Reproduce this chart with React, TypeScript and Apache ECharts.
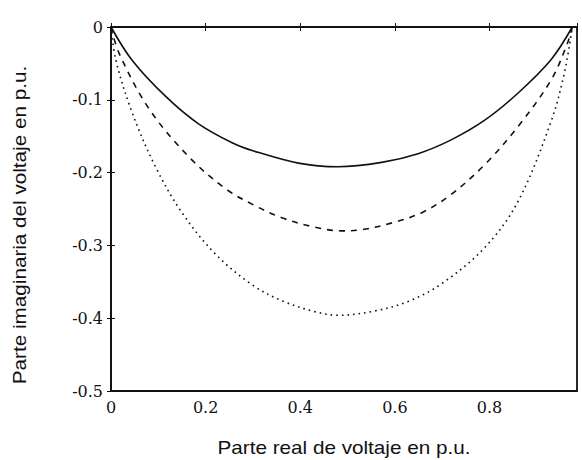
import React, { useEffect, useRef } from "react";
import * as echarts from "echarts";

// (x = real part, y = imaginary part, p.u.)
const solidCurve: number[][] = [
  [0, 0], [0.045, -0.046], [0.115, -0.095], [0.185, -0.133], [0.256, -0.159],
  [0.3, -0.17], [0.396, -0.187], [0.48, -0.192], [0.572, -0.186], [0.649, -0.174],
  [0.719, -0.155], [0.79, -0.128], [0.86, -0.091], [0.93, -0.045], [0.975, 0],
];
const dashedCurve: number[][] = [
  [0, 0], [0.017, -0.036], [0.08, -0.112], [0.164, -0.178], [0.242, -0.222], [0.3, -0.244],
  [0.361, -0.262], [0.431, -0.275], [0.487, -0.28], [0.523, -0.279], [0.6, -0.268],
  [0.66, -0.254], [0.719, -0.23], [0.79, -0.189], [0.86, -0.137], [0.93, -0.073],
  [0.965, -0.022], [0.975, 0],
];
const dottedCurve: number[][] = [
  [0, 0], [0.01, -0.045], [0.045, -0.118], [0.094, -0.192], [0.15, -0.255], [0.221, -0.312],
  [0.298, -0.354], [0.361, -0.376], [0.431, -0.391], [0.48, -0.396], [0.558, -0.39],
  [0.628, -0.377], [0.698, -0.353], [0.79, -0.303], [0.86, -0.24], [0.93, -0.13],
  [0.958, -0.064], [0.975, 0],
];
const xTickLabels = ["0", "0.2", "0.4", "0.6", "0.8"];
const yTickLabels = ["0", "-0.1", "-0.2", "-0.3", "-0.4", "-0.5"];
const xTitle = "Parte real de voltaje en p.u.";
const yTitle = "Parte imaginaria del voltaje en p.u.";

const fmt = (v: number) => {
  const s = Number(v.toFixed(1)).toString();
  return s === "-0" ? "0" : s;
};

export default function App() {
  const ref = useRef<HTMLDivElement>(null);
  useEffect(() => {
    if (!ref.current) return;
    const chart = echarts.init(ref.current, undefined, { renderer: "svg" });
    const labelStyle = {
      fontFamily: "DejaVu Serif, serif",
      fontSize: 16,
      color: "#111",
    };
    const titleStyle = {
      fontFamily: "Liberation Sans, Arial, sans-serif",
      fontSize: 18,
      fill: "#111",
      align: "center" as const,
      verticalAlign: "middle" as const,
    };
    const xLabel = (v: number) => {
      const k = v / 0.2;
      if (Math.abs(k - Math.round(k)) > 1e-6) return "";
      const s = fmt(v);
      return xTickLabels.includes(s) ? s : "";
    };
    const yLabel = (v: number) => {
      const s = fmt(v);
      return yTickLabels.includes(s) ? s : "";
    };
    const lineCommon = { type: "line" as const, showSymbol: false, smooth: 0.35, silent: true };
    chart.setOption({
      animation: false,
      backgroundColor: "#fff",
      grid: {
        left: 111,
        right: 5,
        top: 27,
        bottom: 69,
        show: true,
        borderColor: "#111",
        borderWidth: 1.8,
      },
      xAxis: [
        {
          type: "value",
          min: 0,
          max: 0.985,
          interval: 0.2,
          position: "bottom",
          splitLine: { show: false },
          axisLine: { lineStyle: { color: "#111", width: 1.8 } },
          axisTick: { inside: true, length: 4, lineStyle: { color: "#111" } },
          axisLabel: { ...labelStyle, margin: 8, formatter: xLabel },
        },
        {
          type: "value",
          min: 0,
          max: 0.985,
          interval: 0.2,
          position: "top",
          splitLine: { show: false },
          axisLine: { show: false },
          axisTick: { inside: true, length: 4, lineStyle: { color: "#111" } },
          axisLabel: { show: false },
        },
      ],
      yAxis: [
        {
          type: "value",
          min: -0.5,
          max: 0,
          interval: 0.1,
          position: "left",
          splitLine: { show: false },
          axisLine: { lineStyle: { color: "#111", width: 1.8 } },
          axisTick: { inside: true, length: 4, lineStyle: { color: "#111" } },
          axisLabel: { ...labelStyle, margin: 8, formatter: yLabel },
        },
        {
          type: "value",
          min: -0.5,
          max: 0,
          interval: 0.1,
          position: "right",
          splitLine: { show: false },
          axisLine: { show: false },
          axisTick: { inside: true, length: 4, lineStyle: { color: "#111" } },
          axisLabel: { show: false },
        },
      ],
      graphic: [
        {
          type: "text",
          x: 344,
          y: 448,
          scaleX: 1.15,
          style: { ...titleStyle, text: xTitle },
        },
        {
          type: "text",
          x: 20,
          y: 225,
          rotation: Math.PI / 2,
          scaleX: 1.15,
          style: { ...titleStyle, text: yTitle },
        },
      ],
      series: [
        {
          ...lineCommon,
          name: "solid",
          data: solidCurve,
          lineStyle: { color: "#111", width: 1.6, type: "solid" },
        },
        {
          ...lineCommon,
          name: "dashed",
          data: dashedCurve,
          lineStyle: { color: "#111", width: 1.6, type: [6, 6] },
        },
        {
          ...lineCommon,
          name: "dotted",
          data: dottedCurve,
          lineStyle: { color: "#111", width: 1.6, type: [1.6, 4] },
        },
      ],
    });
    return () => chart.dispose();
  }, []);
  return <div ref={ref} style={{ width: 582, height: 460, position: "absolute", left: 0, top: 0 }} />;
}
